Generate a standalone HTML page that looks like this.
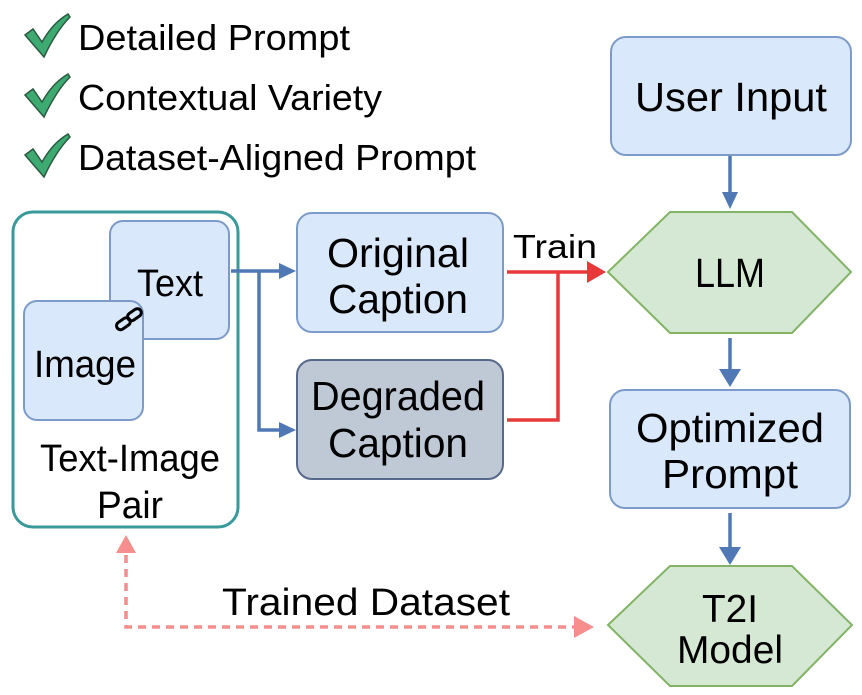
<!DOCTYPE html>
<html><head><meta charset="utf-8"><style>
html,body{margin:0;padding:0;background:#fff;}
svg{display:block;font-family:"Liberation Sans",sans-serif;}
</style></head><body>
<svg width="862" height="695" viewBox="0 0 862 695" xmlns="http://www.w3.org/2000/svg">
<!-- checklist -->
<g fill="#3daa72" stroke="#2b5a40" stroke-width="1.5">
<path d="M25,35 L33,29 L42,42 C50,28 58,20 68,14 L70,17 C60,27 52,40 44,57 Z"/>
<path d="M25,95 L33,89 L42,102 C50,88 58,80 68,74 L70,77 C60,87 52,100 44,117 Z"/>
<path d="M25,155 L33,149 L42,162 C50,148 58,140 68,134 L70,137 C60,147 52,160 44,177 Z"/>
</g>
<g font-size="36" fill="#000">
<text x="78" y="50" textLength="272" lengthAdjust="spacingAndGlyphs">Detailed Prompt</text>
<text x="78" y="110" textLength="304" lengthAdjust="spacingAndGlyphs">Contextual Variety</text>
<text x="78" y="170" textLength="398" lengthAdjust="spacingAndGlyphs">Dataset-Aligned Prompt</text>
</g>
<!-- Text-Image pair -->
<rect x="13" y="212" width="225" height="315" rx="20" fill="#fff" stroke="#3a9a9a" stroke-width="3"/>
<rect x="110" y="221" width="119" height="118" rx="13" fill="#dae8fc" stroke="#7d9bc8" stroke-width="2"/>
<rect x="24" y="301" width="119" height="119" rx="13" fill="#dae8fc" stroke="#7d9bc8" stroke-width="2"/>
<g stroke="#000" stroke-width="3" fill="none">
<rect x="116" y="320" width="15" height="8" rx="4" transform="rotate(-35 123 324)"/>
<rect x="127" y="311" width="15" height="8" rx="4" transform="rotate(-35 134 315)"/>
</g>
<g font-size="38" fill="#000" text-anchor="middle">
<text x="170" y="296" textLength="66" lengthAdjust="spacingAndGlyphs">Text</text>
<text x="85" y="377" textLength="102" lengthAdjust="spacingAndGlyphs">Image</text>
<text x="130" y="471" textLength="180" lengthAdjust="spacingAndGlyphs">Text-Image</text>
<text x="130" y="518" textLength="66" lengthAdjust="spacingAndGlyphs">Pair</text>
</g>
<!-- captions -->
<rect x="297" y="213" width="206" height="119" rx="15" fill="#dae8fc" stroke="#7d9bc8" stroke-width="2"/>
<rect x="297" y="360" width="206" height="119" rx="15" fill="#bfc9d6" stroke="#56698a" stroke-width="2"/>
<g font-size="41" fill="#000" text-anchor="middle">
<text x="398" y="267" textLength="142" lengthAdjust="spacingAndGlyphs">Original</text>
<text x="398" y="313" textLength="140" lengthAdjust="spacingAndGlyphs">Caption</text>
<text x="398" y="410" textLength="174" lengthAdjust="spacingAndGlyphs">Degraded</text>
<text x="398" y="457" textLength="140" lengthAdjust="spacingAndGlyphs">Caption</text>
</g>
<!-- blue branch arrows -->
<g stroke="#4f78b5" stroke-width="3.5" fill="none">
<polyline points="231,271 281,271"/>
<polyline points="259,271 259,430 281,430"/>
</g>
<g fill="#4f78b5">
<polygon points="279,263 296,271 279,279"/>
<polygon points="279,422 296,430 279,438"/>
</g>
<!-- red train -->
<g stroke="#e8393a" stroke-width="3.5" fill="none">
<polyline points="507,272 590,272"/>
<polyline points="507,420 558,420 558,272"/>
</g>
<polygon points="587,261 606,272 587,283" fill="#e8393a"/>
<text x="513" y="258" font-size="33" textLength="84" lengthAdjust="spacingAndGlyphs">Train</text>
<!-- right column -->
<rect x="611" y="37" width="240" height="118" rx="15" fill="#dae8fc" stroke="#7d9bc8" stroke-width="2"/>
<text x="731" y="111" font-size="41" text-anchor="middle" textLength="192" lengthAdjust="spacingAndGlyphs">User Input</text>
<polygon points="608,272 670,212 792,212 851,272 792,333 670,333" fill="#d5e8d4" stroke="#82b366" stroke-width="2"/>
<text x="730" y="287" font-size="41" text-anchor="middle" textLength="70" lengthAdjust="spacingAndGlyphs">LLM</text>
<rect x="610" y="390" width="240" height="118" rx="15" fill="#dae8fc" stroke="#7d9bc8" stroke-width="2"/>
<text x="730" y="442" font-size="41" text-anchor="middle" textLength="188" lengthAdjust="spacingAndGlyphs">Optimized</text>
<text x="730" y="488" font-size="41" text-anchor="middle" textLength="136" lengthAdjust="spacingAndGlyphs">Prompt</text>
<polygon points="608,625 670,566 792,566 852,625 792,686 670,686" fill="#d5e8d4" stroke="#82b366" stroke-width="2"/>
<text x="730" y="622" font-size="39" text-anchor="middle" textLength="56" lengthAdjust="spacingAndGlyphs">T2I</text>
<text x="730" y="663" font-size="39" text-anchor="middle" textLength="106" lengthAdjust="spacingAndGlyphs">Model</text>
<!-- vertical blue arrows -->
<g stroke="#4f78b5" stroke-width="3.5">
<line x1="730" y1="156" x2="730" y2="196"/>
<line x1="730" y1="338" x2="730" y2="372"/>
<line x1="730" y1="513" x2="730" y2="550"/>
</g>
<g fill="#4f78b5">
<polygon points="722,192 738,192 730,209"/>
<polygon points="719,369 741,369 730,387"/>
<polygon points="719,547 741,547 730,565"/>
</g>
<!-- dashed pink -->
<polyline points="126,555 126,627 575,627" fill="none" stroke="#f58e8c" stroke-width="3.5" stroke-dasharray="8,6"/>
<polygon points="116,553 136,553 126,535" fill="#f58e8c"/>
<polygon points="574,616 594,627 574,638" fill="#f58e8c"/>
<text x="222" y="615" font-size="38" textLength="288" lengthAdjust="spacingAndGlyphs">Trained Dataset</text>
</svg>
</body></html>
